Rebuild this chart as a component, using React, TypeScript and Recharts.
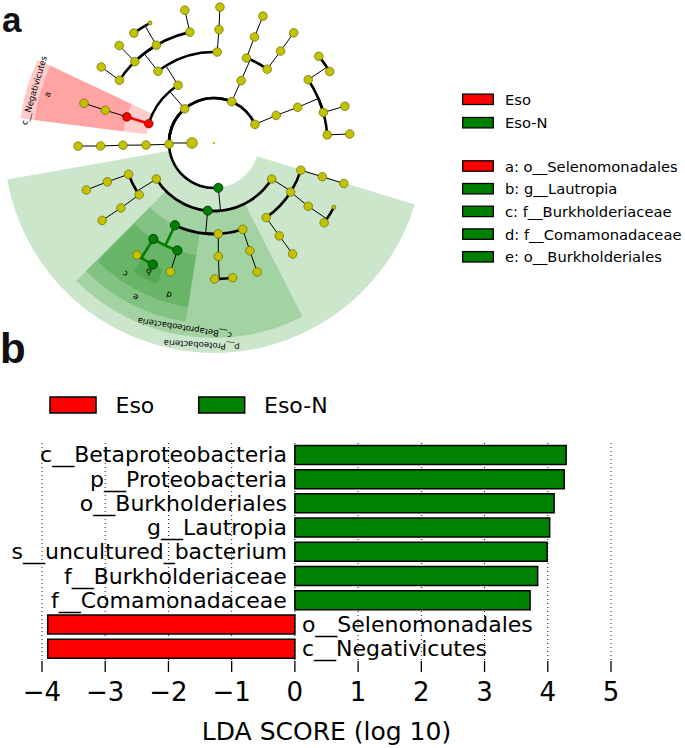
import React from "react";
import {
  BarChart,
  Bar,
  XAxis,
  YAxis,
  CartesianGrid,
  Cell,
  LabelList,
  Label,
  Legend,
  PieChart,
  Pie,
  ScatterChart,
  Scatter,
} from "recharts";

const FONT = "'DejaVu Sans', Verdana, sans-serif";
const RED = "#ff0000";
const GREEN = "#008000";
const YELLOW = "#c2c200";

// ---------- panel b: LDA scores ----------
const taxa = [
  "c__Betaproteobacteria",
  "p__Proteobacteria",
  "o__Burkholderiales",
  "g__Lautropia",
  "s__uncultured_bacterium",
  "f__Burkholderiaceae",
  "f__Comamonadaceae",
  "o__Selenomonadales",
  "c__Negativicutes",
];
const ldaScores = [4.29, 4.26, 4.1, 4.03, 3.99, 3.84, 3.72, -3.91, -3.91];
const scoreTicks = [-4, -3, -2, -1, 0, 1, 2, 3, 4, 5];
const groupNames = ["Eso", "Eso-N"];
const groupColors = [RED, GREEN];

// ---------- panel a: cladogram ----------
// ring radius of each taxonomic level (root, kingdom, phylum ... genus)
const levelRadius = [0, 22, 45, 68, 91, 113.5, 136];
// id, parent, level, angle (deg, counter-clockwise from 3 o'clock), kind
const cladeNodes: [string, string, number, number, string][] = [
  ["root", "", 0, 0, "root"],
  ["k", "", 1, 180, "big"],
  ["p1", "k", 2, 24.5, "y"],
  ["p2", "k", 2, 66.8, "y"],
  ["p3", "k", 2, 130.6, "y"],
  ["p4", "k", 2, 181.6, "y"],
  ["p5", "k", 2, 275.5, "green"],
  ["p1c", "p1", 3, 23.9, "y"],
  ["p1o", "p1c", 4, 23.1, "y"],
  ["p1f1", "p1o", 5, 33.9, "y"],
  ["p1f2", "p1o", 5, 15.6, "y"],
  ["p1f3", "p1o", 5, 4.1, "y"],
  ["p1g1", "p1f1", 6, 39.6, "y"],
  ["p1g2", "p1f1", 6, 31.7, "y"],
  ["p1g3", "p1f2", 6, 15.7, "y"],
  ["p1g4", "p1f3", 6, 3.8, "y"],
  ["p2c", "p2", 3, 66.5, "y"],
  ["p2o1", "p2c", 4, 69.1, "y"],
  ["p2o2", "p2c", 4, 54.2, "y"],
  ["p2f1", "p2o1", 5, 69.1, "y"],
  ["p2f2", "p2o2", 5, 54.1, "y"],
  ["p2g1", "p2f1", 6, 68.9, "y"],
  ["p2g2", "p2f2", 6, 54.1, "y"],
  ["neg", "p3", 3, 163.5, "red"],
  ["p3c", "p3", 3, 121.9, "y"],
  ["sel", "neg", 4, 163.3, "red"],
  ["selF", "sel", 5, 163.2, "y"],
  ["selG", "selF", 6, 163, "y"],
  ["p3o1", "p3c", 4, 128, "y"],
  ["p3o2", "p3c", 4, 88, "y"],
  ["p3f1", "p3o1", 5, 102.3, "y"],
  ["p3f2", "p3o1", 5, 120.5, "y"],
  ["p3f3", "p3o1", 5, 134.2, "y"],
  ["p3f4", "p3o1", 5, 146.4, "y"],
  ["p3g1", "p3f1", 6, 102.4, "y"],
  ["p3g2", "p3f2", 6, 126.1, "y"],
  ["p3g3", "p3f2", 6, 118.1, "small"],
  ["p3g4", "p3f3", 6, 134.2, "y"],
  ["p3g5", "p3f4", 6, 146, "y"],
  ["p3f5", "p3o2", 5, 87.5, "y"],
  ["p3g6", "p3f5", 6, 87.5, "y"],
  ["p4c", "p4", 3, 181.7, "y"],
  ["p4o", "p4c", 4, 181.4, "y"],
  ["p4f", "p4o", 5, 181.5, "y"],
  ["p4g", "p4f", 6, 181.3, "y"],
  ["p5c1", "p5", 3, 212, "y"],
  ["beta", "p5", 3, 264.7, "green"],
  ["p5c3", "p5", 3, 328, "y"],
  ["p5o1", "p5c1", 4, 200.1, "y"],
  ["p5o2", "p5c1", 4, 214.7, "y"],
  ["p5f1", "p5o1", 5, 200, "y"],
  ["p5g1", "p5f1", 6, 200.2, "y"],
  ["p5f2", "p5o2", 5, 214.9, "y"],
  ["p5g2", "p5f2", 6, 214.7, "y"],
  ["burkO", "beta", 4, 244.6, "green"],
  ["bo2", "beta", 4, 272.7, "y"],
  ["bo3", "beta", 4, 288.4, "y"],
  ["burkF", "burkO", 5, 237.7, "green"],
  ["comaF", "burkO", 5, 251.2, "green"],
  ["x1", "burkF", 6, 235.5, "y"],
  ["laut", "burkF", 6, 243.3, "green"],
  ["x2", "comaF", 6, 251.3, "y"],
  ["bf2", "bo2", 5, 272.2, "y"],
  ["bg2a", "bf2", 6, 270.3, "y"],
  ["bg2b", "bf2", 6, 277.9, "y"],
  ["bf3", "bo3", 5, 288.4, "y"],
  ["bg3", "bf3", 6, 288.5, "y"],
  ["go1", "p5c3", 4, 305, "y"],
  ["go2", "p5c3", 4, 327.4, "y"],
  ["go3", "p5c3", 4, 342.6, "y"],
  ["gf1", "go1", 5, 305.1, "y"],
  ["gg1", "gf1", 6, 305.3, "y"],
  ["gf2", "go2", 5, 326.1, "y"],
  ["gg2a", "gf2", 6, 331.8, "small"],
  ["gg2b", "gf2", 6, 324.1, "y"],
  ["gf3", "go3", 5, 342.7, "y"],
  ["gg3", "gf3", 6, 342.7, "y"],
];

// highlighted clades: label, from angle, to angle, level, group
const cladeWedges: [string, number, number, number, string][] = [
  ["p__Proteobacteria", 190, 343, 2, "Eso-N"],
  ["c__Betaproteobacteria", 225, 297, 3, "Eso-N"],
  ["c__Negativicutes", 154.7, 172.7, 3, "Eso"],
  ["e", 225, 261, 4, "Eso-N"],
  ["a", 154.7, 172.7, 4, "Eso"],
  ["c", 225.5, 246, 5, "Eso-N"],
  ["d", 246, 261, 5, "Eso-N"],
  ["b", 238, 248, 6, "Eso-N"],
];

const biomarkerKeys = ["a", "b", "c", "d", "e"];
const biomarkerNames = [
  "o__Selenomonadales",
  "g__Lautropia",
  "f__Burkholderiaceae",
  "f__Comamonadaceae",
  "o__Burkholderiales",
];
const biomarkerGroups = ["Eso", "Eso-N", "Eso-N", "Eso-N", "Eso-N"];

// ---------- geometry / styles ----------
const CX = 214;
const CY = 143;
const A_W = 685;
const A_H = 372;
const BAND_OUTER = [0, 0, 210, 195, 181, 166, 152];
const NODE_STYLE: Record<string, { r: number; fill: string; stroke: string }> = {
  root: { r: 1.2, fill: YELLOW, stroke: "none" },
  big: { r: 5.4, fill: YELLOW, stroke: "#6a6a00" },
  small: { r: 2, fill: YELLOW, stroke: "#6a6a00" },
  y: { r: 4.3, fill: YELLOW, stroke: "#6a6a00" },
  green: { r: 4.6, fill: GREEN, stroke: "#002000" },
  red: { r: 4.3, fill: RED, stroke: "#600000" },
};

const rad = (d: number) => (d * Math.PI) / 180;
const polar = (r: number, a: number) => ({
  x: r * Math.cos(rad(a)),
  y: r * Math.sin(rad(a)),
});
const hiColor = (kind: string) =>
  kind === "red" ? RED : kind === "green" ? GREEN : null;

const nodePoints = cladeNodes.map(([id, , level, angle, kind]) => ({
  id,
  kind,
  ...polar(levelRadius[level], angle),
}));

type Seg = { pts: { x: number; y: number }[]; color: string; width: number };
type Arc = { r: number; a0: number; a1: number; color: string; width: number };
const branchLines: Seg[] = [];
const branchArcs: Arc[] = [];

cladeNodes.forEach(([id, , level, angle, kind]) => {
  const kids = cladeNodes.filter((n) => n[1] === id);
  if (!kids.length) return;
  const pc = hiColor(kind);
  const from = polar(levelRadius[level], angle);
  if (kids.length === 1) {
    const k = kids[0];
    const on = pc !== null && hiColor(k[4]) === pc;
    branchLines.push({
      pts: [from, polar(levelRadius[k[2]], k[3])],
      color: on ? (pc as string) : "#000",
      width: on ? 2.6 : 1,
    });
    return;
  }
  const r = levelRadius[kids[0][2]];
  let any = false;
  kids.forEach((k) => {
    const on = pc !== null && hiColor(k[4]) === pc && level >= 4;
    if (on) any = true;
    const a0 = Math.min(angle, k[3]);
    const a1 = Math.max(angle, k[3]);
    if (a1 - a0 > 0.3)
      branchArcs.push({ r, a0, a1, color: on ? (pc as string) : "#000", width: 2.6 });
  });
  branchLines.push({
    pts: [from, polar(r, angle)],
    color: any ? (pc as string) : "#000",
    width: any ? 2.6 : 1,
  });
});

const wedgeLabel = (p: any, text: string) => {
  const r = p.outerRadius - 7.5;
  const a = p.midAngle;
  const x = p.cx + r * Math.cos(rad(a));
  const y = p.cy - r * Math.sin(rad(a));
  return (
    <text
      x={x}
      y={y}
      transform={`rotate(${90 - a} ${x} ${y})`}
      textAnchor="middle"
      dominantBaseline="central"
      fontSize={8.5}
      fontFamily={FONT}
      fill="#000"
    >
      {text}
    </text>
  );
};

const NodeDot = (p: any) => {
  const st = NODE_STYLE[p.payload.kind];
  return (
    <circle cx={p.cx} cy={p.cy} r={st.r} fill={st.fill} stroke={st.stroke} strokeWidth={0.7} />
  );
};

const CladeLegend = () => {
  const rows = [
    ...groupNames.map((g, i) => ({ text: g, color: groupColors[i], y: 14.3 + i * 23.4 })),
    ...biomarkerKeys.map((k, i) => ({
      text: `${k}: ${biomarkerNames[i]}`,
      color: biomarkerGroups[i] === "Eso" ? RED : GREEN,
      y: 81 + i * 22.7,
    })),
  ];
  return (
    <svg width={230} height={190}>
      {rows.map((row) => (
        <g key={row.text}>
          <rect x={7.7} y={row.y - 5.2} width={30.6} height={10.4} fill={row.color} stroke="#000" strokeWidth={1.3} />
          <text x={50} y={row.y} dominantBaseline="central" fontSize={14.7} fontFamily={FONT} fill="#000">
            {row.text}
          </text>
        </g>
      ))}
    </svg>
  );
};

const GroupLegend = () => (
  <svg width={360} height={40}>
    {groupNames.map((g, i) => (
      <g key={g}>
        <rect x={50 + i * 148.7} y={17} width={46} height={16} fill={groupColors[i]} stroke="#000" strokeWidth={1.5} />
        <text x={115.5 + i * 148.5} y={25} dominantBaseline="central" fontSize={22} fontFamily={FONT} fill="#000">
          {g}
        </text>
      </g>
    ))}
  </svg>
);

const ScoreTick = (p: any) => (
  <text x={p.x} y={p.y} dy="0.71em" textAnchor="middle" fontSize={26} fontFamily={FONT} fill="#000">
    {String(p.payload.value).replace("-", "\u2212")}
  </text>
);

const TaxonLabel = (p: any) => {
  const { x, y, width, height, value } = p;
  const neg = ldaScores[taxa.indexOf(value)] < 0;
  const x0 = neg ? Math.max(x, x + width) : Math.min(x, x + width);
  return (
    <text
      x={neg ? x0 + 7 : x0 - 8}
      y={y + height / 2}
      textAnchor={neg ? "start" : "end"}
      dominantBaseline="central"
      fontSize={22}
      fontFamily={FONT}
      fill="#000"
    >
      {value}
    </text>
  );
};

const barData = taxa.map((name, i) => ({ name, score: ldaScores[i] }));

export default function App() {
  return (
    <div style={{ position: "absolute", left: 0, top: 0, width: 685, height: 748, background: "#fff" }}>
      <div style={{ position: "absolute", left: 0, top: 0 }}>
        <PieChart width={A_W} height={A_H} margin={{ top: 0, right: 0, bottom: 0, left: 0 }}>
          {cladeWedges.map(([label, a0, a1, level, group], i) => (
            <Pie
              key={`w${i}`}
              data={[{ name: label, value: 1, fill: group === "Eso" ? "rgba(255,0,0,0.2)" : "rgba(0,128,0,0.2)" }]}
              dataKey="value"
              cx={CX}
              cy={CY}
              startAngle={a0}
              endAngle={a1}
              innerRadius={levelRadius[level]}
              outerRadius={BAND_OUTER[level]}
              stroke="none"
              labelLine={false}
              label={(p: any) => wedgeLabel(p, label)}
              isAnimationActive={false}
            />
          ))}
          {branchArcs.map((s, i) => (
            <Pie
              key={`a${i}`}
              data={[{ name: `arc${i}`, value: 1, fill: s.color }]}
              dataKey="value"
              cx={CX}
              cy={CY}
              startAngle={s.a0}
              endAngle={s.a1}
              innerRadius={s.r - s.width / 2}
              outerRadius={s.r + s.width / 2}
              stroke="none"
              isAnimationActive={false}
            />
          ))}
          <Legend
            verticalAlign="middle"
            content={CladeLegend}
            wrapperStyle={{ position: "absolute", left: 455, top: 85, width: 230, height: 190 }}
          />
        </PieChart>
      </div>
      <div style={{ position: "absolute", left: 0, top: 0 }}>
        <ScatterChart width={A_W} height={A_H} margin={{ top: 0, right: 0, bottom: 0, left: 0 }}>
          <XAxis type="number" dataKey="x" domain={[-CX, A_W - CX]} hide />
          <YAxis type="number" dataKey="y" domain={[CY - A_H, CY]} hide />
          {branchLines.map((l, i) => (
            <Scatter
              key={`l${i}`}
              data={l.pts}
              line={{ stroke: l.color, strokeWidth: l.width }}
              shape={() => <g />}
              isAnimationActive={false}
            />
          ))}
          <Scatter data={nodePoints} shape={NodeDot} isAnimationActive={false} />
        </ScatterChart>
      </div>
      <div style={{ position: "absolute", left: 0, top: 380 }}>
        <BarChart
          layout="vertical"
          width={685}
          height={368}
          data={barData}
          margin={{ top: 52, right: 74, bottom: 0, left: 42 }}
          barCategoryGap="10%"
        >
          <CartesianGrid xAxisId="bottom" horizontal={false} stroke="#000" strokeWidth={0.9} strokeDasharray="1 3" />
          <XAxis
            xAxisId="top"
            orientation="top"
            type="number"
            domain={[-4, 5]}
            ticks={scoreTicks}
            tick={false}
            tickSize={11}
            height={11}
            axisLine={false}
            tickLine={{ stroke: "#000", strokeWidth: 1.3 }}
          />
          <XAxis
            xAxisId="bottom"
            type="number"
            domain={[-4, 5]}
            ticks={scoreTicks}
            tick={ScoreTick}
            tickSize={11}
            tickMargin={11}
            height={87}
            axisLine={false}
            tickLine={{ stroke: "#000", strokeWidth: 1.3 }}
          >
            <Label
              value="LDA SCORE (log 10)"
              position="insideBottom"
              offset={8}
              style={{ fontSize: 25, fontFamily: FONT, fill: "#000" }}
            />
          </XAxis>
          <YAxis type="category" dataKey="name" hide />
          <Bar xAxisId="bottom" dataKey="score" stroke="#000" strokeWidth={1.5} isAnimationActive={false}>
            {barData.map((d) => (
              <Cell key={d.name} fill={d.score < 0 ? RED : GREEN} />
            ))}
            <LabelList dataKey="name" content={TaxonLabel} />
          </Bar>
          <Legend
            verticalAlign="middle"
            content={GroupLegend}
            wrapperStyle={{ position: "absolute", left: 0, top: 0, width: 360, height: 40 }}
          />
        </BarChart>
      </div>
      <svg width={685} height={748} style={{ position: "absolute", left: 0, top: 0, pointerEvents: "none" }}>
        <text x={2} y={32} fontSize={35} fontWeight="bold" fontFamily="'Liberation Sans', Arial, sans-serif" fill="#111">
          a
        </text>
        <text x={0} y={363} fontSize={42} fontWeight="bold" fontFamily="'Liberation Sans', Arial, sans-serif" fill="#111">
          b
        </text>
      </svg>
    </div>
  );
}
